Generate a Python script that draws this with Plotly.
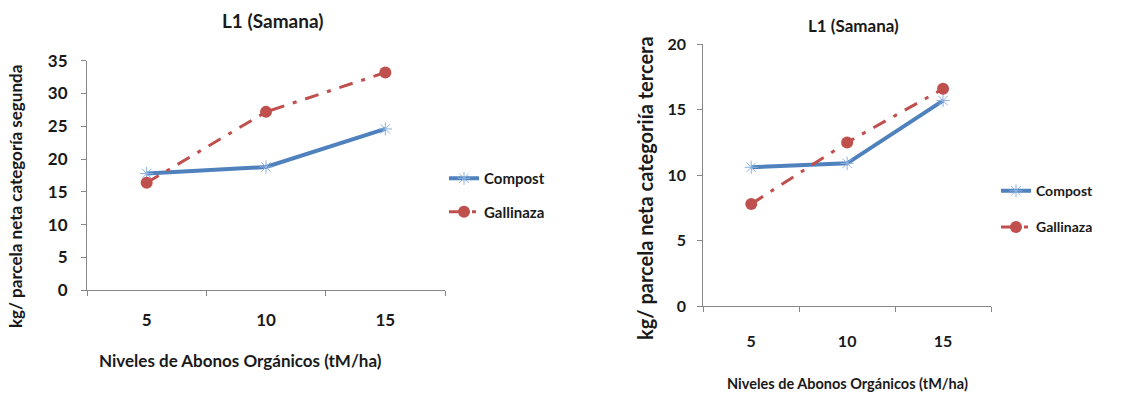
import plotly.graph_objects as go

W, H = 1145, 396

niveles = ["5", "10", "15"]
compost_segunda = [17.8, 18.8, 24.6]
gallinaza_segunda = [16.4, 27.2, 33.2]
compost_tercera = [10.6, 10.9, 15.7]
gallinaza_tercera = [7.8, 12.5, 16.6]

title_txt = "L1 (Samana)"
xtitle = "Niveles de Abonos Orgánicos (tM/ha)"
ytitle_left = "kg/ parcela neta categoría segunda"
ytitle_right = "kg/ parcela neta categoriía tercera"

BLUE = "#4F81BD"
STAR = "#8DB3E2"
RED = "#C0504D"
AXIS = "#868686"
FONT = "Lato"
TXT = "#1a1a1a"


def px_x(p):
    return p / W


def px_y(p):
    return 1 - p / H


fig = go.Figure()

def add_pair(xa, ya, comp, gall, legend):
    fig.add_trace(go.Scatter(
        x=niveles, y=comp, name="Compost", xaxis=xa, yaxis=ya,
        mode="lines+markers", legend=legend, legendgroup=legend + "c",
        line=dict(color=BLUE, width=4),
        marker=dict(symbol="asterisk-open", size=11, color=STAR,
                    line=dict(color=STAR, width=1)),
    ))
    fig.add_trace(go.Scatter(
        x=niveles, y=gall, name="Gallinaza", xaxis=xa, yaxis=ya,
        mode="lines+markers", legend=legend, legendgroup=legend + "g",
        line=dict(color=RED, width=3, dash="14px,9px,4px,9px"),
        marker=dict(symbol="circle", size=12, color=RED),
    ))

add_pair("x", "y", compost_segunda, gallinaza_segunda, "legend")
add_pair("x2", "y2", compost_tercera, gallinaza_tercera, "legend2")

def tickfont(sz):
    return dict(family=FONT, size=sz, color=TXT, weight="bold")

def xaxis_cfg(x0, x1, standoff, sz):
    return dict(domain=[px_x(x0), px_x(x1)], type="category",
                range=[-0.5, 2.5], showline=True, linecolor=AXIS, linewidth=1,
                ticks="outside", tickson="boundaries", ticklen=5, tickcolor=AXIS,
                showgrid=False, zeroline=False, tickfont=tickfont(sz),
                ticklabelstandoff=standoff, fixedrange=True, automargin=False)

def yaxis_cfg(y0, y1, rng, dt, xa, standoff, sz):
    return dict(domain=[px_y(y0), px_y(y1)], range=rng, dtick=dt, tick0=0,
                showline=True, linecolor=AXIS, linewidth=1, ticks="outside",
                ticklen=5, tickcolor=AXIS, showgrid=False, zeroline=False,
                tickfont=tickfont(sz), anchor=xa, ticklabelstandoff=standoff,
                fixedrange=True, automargin=False)

L_top, L_bot = 60.7, 290.3
R_top, R_bot = 44.3, 306.0

fig.update_layout(
    width=W, height=H,
    margin=dict(l=0, r=0, t=0, b=0, pad=0, autoexpand=False),
    paper_bgcolor="white", plot_bgcolor="white",
    xaxis=xaxis_cfg(87, 445, 14, 17) | dict(anchor="y"),
    yaxis=yaxis_cfg(L_bot, L_top, [0, 35], 5, "x", 10, 17),
    xaxis2=xaxis_cfg(703.3, 991, 21, 16) | dict(anchor="y2"),
    yaxis2=yaxis_cfg(R_bot, R_top, [0, 20], 5, "x2", 8, 16),
    legend=dict(x=px_x(444), y=px_y(162), xanchor="left", yanchor="top",
                font=dict(family=FONT, size=15, color=TXT, weight="bold"),
                tracegroupgap=11, bgcolor="rgba(0,0,0,0)"),
    legend2=dict(x=px_x(996), y=px_y(175.2), xanchor="left", yanchor="top",
                 font=dict(family=FONT, size=14, color=TXT, weight="bold"),
                 tracegroupgap=15, bgcolor="rgba(0,0,0,0)"),
    showlegend=True,
)

annots = [
    dict(text=title_txt, x=px_x(272.7), y=px_y(20.7), size=19),
    dict(text=title_txt, x=px_x(853.3), y=px_y(25), size=17),
    dict(text=xtitle, x=px_x(240.7), y=px_y(360), size=17),
    dict(text=xtitle, x=px_x(847.7), y=px_y(383), size=14.5),
    dict(text=ytitle_left, x=px_x(16), y=px_y(197), size=17, angle=-90),
    dict(text=ytitle_right, x=px_x(645), y=px_y(188), size=20, angle=-90),
]
for a in annots:
    fig.add_annotation(text=a["text"], x=a["x"], y=a["y"], xref="paper", yref="paper",
                       xanchor="center", yanchor="middle", showarrow=False,
                       textangle=a.get("angle", 0),
                       font=dict(family=FONT, size=a["size"], color=TXT, weight="bold"))

fig.write_html("out.html")
